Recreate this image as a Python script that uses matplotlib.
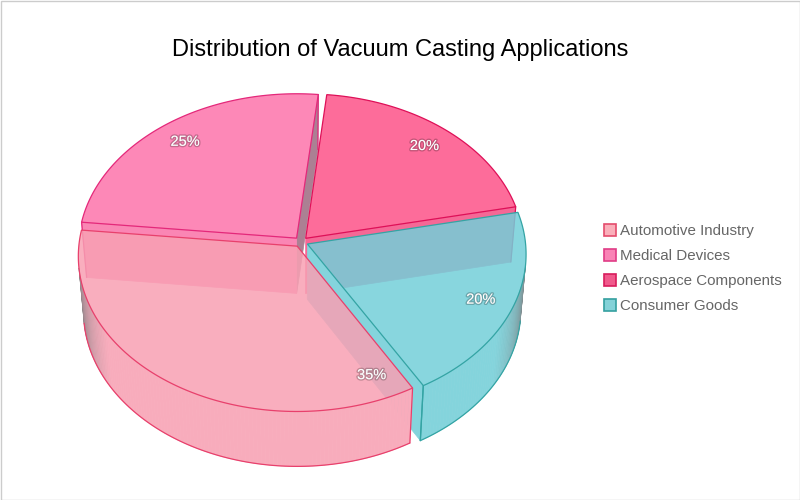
import numpy as np
import matplotlib
matplotlib.use("Agg")
import matplotlib.pyplot as plt
from matplotlib.patches import Polygon, Rectangle
import matplotlib.patheffects as pe

# ---------------- data ----------------
title = "Distribution of Vacuum Casting Applications"
categories = ["Automotive Industry", "Medical Devices", "Aerospace Components", "Consumer Goods"]
values = [35, 25, 20, 20]

# ---------------- style ----------------
top_colors = ["#F9AEBE", "#FD88B8", "#FD6C9A", "#88D6DF"]      # look over white
side_colors = ["#F8ACBC", "#FA86B4", "#F56896", "#84D4DC"]
edge_colors = ["#E8406C", "#E4287A", "#DE1058", "#34A4A4"]
legend_fill = ["#FAAFBA", "#F984B6", "#F05A8C", "#84D2D8"]
legend_edge = ["#E44C6C", "#E03C86", "#D81C5C", "#34A0A0"]
label_frac = [0.06, 0.5, 0.5, 0.5]   # where along each slice its label sits

FONT = "Liberation Sans"
CX, CY = 301, 242
R = 218.0
D = 2400.0
ALPHA = np.radians(45)
DEPTH = 80.0
SLICE_OFF = 7.0
START = 150.0
TOP_A = 0.85
sa, ca = np.sin(ALPHA), np.cos(ALPHA)


def hex2rgb(h):
    h = h.lstrip("#")
    return np.array([int(h[i:i + 2], 16) for i in (0, 2, 4)]) / 255.0


def to_cam(x, zp, h):
    return np.array([x, zp * sa + h * ca, D + zp * ca - h * sa])


def to_scr(c):
    return (CX + D * c[0] / c[2], CY - D * c[1] / c[2])


def ncam(nx, nzp, nh):
    return np.array([nx, nzp * sa + nh * ca, nzp * ca - nh * sa])


def facing(n, p):
    return -np.dot(n / np.linalg.norm(n), p / np.linalg.norm(p))


GREY = np.array([125, 125, 127]) / 255.0


def shade(base, f):
    t = np.clip(f / 0.3, 0, 1) ** 0.7
    return GREY * (1 - t) + base * t


fig = plt.figure(figsize=(8, 5), dpi=100)
ax = fig.add_axes([0, 0, 1, 1])
ax.set_xlim(0, 800)
ax.set_ylim(500, 0)
ax.axis("off")

total = float(sum(values))
faces = []   # (depth, pts, fc)
lines = []   # (pts, color)
tops = []
labels = []

cum = 0.0
for i, v in enumerate(values):
    a0 = START + 360.0 * cum / total
    a1 = START + 360.0 * (cum + v) / total
    cum += v
    mid = np.radians((a0 + a1) / 2)
    off = (SLICE_OFF * np.sin(mid), SLICE_OFF * np.cos(mid))
    base_side = hex2rgb(side_colors[i])
    ec = edge_colors[i]

    def cp(r, th, h):
        t = np.radians(th)
        return to_cam(r * np.sin(t) + off[0], r * np.cos(t) + off[1], h)

    # radial faces
    for ang, sgn in ((a0, -1), (a1, 1)):
        nt = np.radians(ang + sgn * 90)
        n = ncam(np.sin(nt), np.cos(nt), 0)
        cs = [cp(0, ang, 0), cp(R, ang, 0), cp(R, ang, -DEPTH), cp(0, ang, -DEPTH)]
        cen = np.mean(cs, axis=0)
        f = facing(n, cen)
        if f > 0:
            pts = [to_scr(c) for c in cs]
            faces.append((cen[2], pts, shade(base_side, f)))
            lines.append(([pts[1], pts[2]], ec))

    # outer side
    nseg = int(np.ceil((a1 - a0) / 1.0))
    th = np.linspace(a0, a1, nseg + 1)
    run = []
    first_vis = last_vis = None
    for j in range(nseg):
        tm = np.radians((th[j] + th[j + 1]) / 2)
        n = ncam(np.sin(tm), np.cos(tm), 0)
        cs = [cp(R, th[j], 0), cp(R, th[j + 1], 0), cp(R, th[j + 1], -DEPTH), cp(R, th[j], -DEPTH)]
        cen = np.mean(cs, axis=0)
        f = facing(n, cen)
        if f > 0:
            pts = [to_scr(c) for c in cs]
            faces.append((cen[2], pts, shade(base_side, f)))
            if not run:
                run.append(to_scr(cs[3]))
            run.append(to_scr(cs[2]))
            if j == 0:
                first_vis = [to_scr(cs[0]), to_scr(cs[3])]
            if j == nseg - 1:
                last_vis = [to_scr(cs[1]), to_scr(cs[2])]
        else:
            if len(run) > 1:
                lines.append((run, ec))
            run = []
    if len(run) > 1:
        lines.append((run, ec))
    if first_vis:
        lines.append((first_vis, ec))
    if last_vis:
        lines.append((last_vis, ec))

    # top face
    tt = np.linspace(a0, a1, 200)
    tcs = [cp(0, a0, 0)] + [cp(R, t, 0) for t in tt]
    cen = np.mean(tcs, axis=0)
    obs = hex2rgb(top_colors[i])
    pure = np.clip((obs - (1 - TOP_A)) / TOP_A, 0, 1)
    tops.append((cen[2], [to_scr(c) for c in tcs], pure, ec))

    la = a0 + label_frac[i] * (a1 - a0)
    labels.append((to_scr(cp(0.85 * R, la, 0)), f"{v / total * 100:.0f}%"))

for d, pts, fc in sorted(faces, key=lambda z: -z[0]):
    ax.add_patch(Polygon(pts, closed=True, facecolor=fc, edgecolor=fc, lw=0.5, zorder=2))
for pts, col in lines:
    xs, ys = zip(*pts)
    ax.plot(xs, ys, color=col, lw=0.9, zorder=3, solid_capstyle="round")

for d, pts, fc, ec in sorted(tops, key=lambda z: -z[0]):
    ax.add_patch(Polygon(pts, closed=True, facecolor=(*fc, TOP_A), edgecolor=ec, lw=0.9, zorder=4))

for (x, y), txt in labels:
    ax.text(x, y + 1, txt, ha="center", va="center", color="white", fontsize=10.5, family=FONT,
            zorder=6, path_effects=[pe.withStroke(linewidth=2, foreground=(0, 0, 0, 0.22))])

# title
ax.text(400, 50, title, ha="center", va="center", fontsize=17, family=FONT, color="black", zorder=6)

# legend
for k, name in enumerate(categories):
    y = 230 + 25 * k
    ax.add_patch(Rectangle((604, y - 6), 12, 12, facecolor=legend_fill[k], edgecolor=legend_edge[k],
                           lw=1.2, zorder=6))
    ax.text(620, y + 0.5, name, ha="left", va="center", fontsize=10.9, family=FONT, color="#666666", zorder=6)

# frame
ax.add_patch(Rectangle((0.5, 0.5), 799, 499, fill=False, edgecolor="#cccccc", lw=1, zorder=7))

fig.savefig("out.png", dpi=100)
